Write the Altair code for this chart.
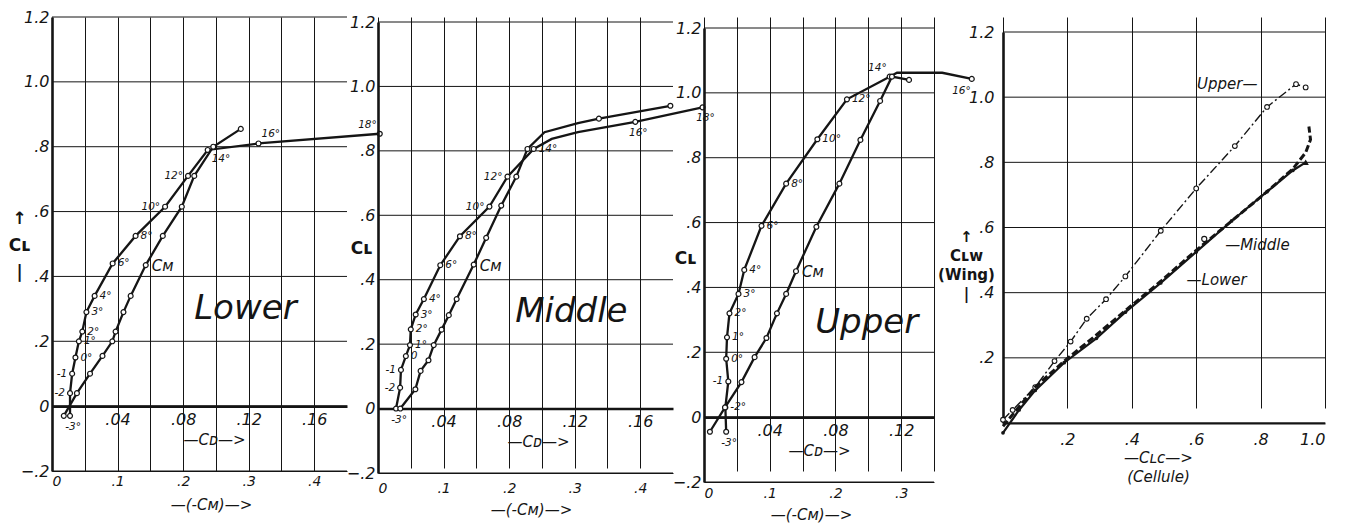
import altair as alt
import pandas as pd

FONT = "DejaVu Sans"
INK = "#151515"

# ---------------- Lower wing (CL vs CD, CL vs -CM) ----------------
LOW_CD_ANG = ["-3°", "-2", "-1", "0°", "1°", "2°", "3°", "4°", "6°", "8°", "10°", "12°", "14°", "16°", "18°"]
LOW_CD = [0.011, 0.011, 0.0123, 0.0143, 0.0164, 0.0185, 0.021, 0.026, 0.037, 0.051, 0.069, 0.083, 0.095, 0.126, 0.200]
LOW_CD_CL = [-0.03, 0.04, 0.10, 0.15, 0.20, 0.23, 0.29, 0.34, 0.44, 0.525, 0.615, 0.71, 0.79, 0.81, 0.84]
LOW_CM_ANG = ["-3°", "-2", "-1", "0°", "1°", "2°", "3°", "4°", "6°", "8°", "10°", "12°", "14°", "16°"]
LOW_CM = [0.018, 0.038, 0.058, 0.077, 0.092, 0.097, 0.109, 0.12, 0.143, 0.169, 0.198, 0.217, 0.246, 0.288]
LOW_CM_CL = [-0.03, 0.04, 0.10, 0.155, 0.20, 0.23, 0.29, 0.34, 0.435, 0.525, 0.615, 0.71, 0.80, 0.855]

# ---------------- Middle wing ----------------
MID_CD_ANG = ["-3°", "-2", "-1", "0", "1°", "2°", "3°", "4°", "6°", "8°", "10°", "12°", "14°", "", "", "16°", "18°"]
MID_CD = [0.011, 0.0135, 0.014, 0.017, 0.0195, 0.020, 0.023, 0.028, 0.038, 0.050, 0.068, 0.079, 0.095, 0.106, 0.122, 0.157, 0.198]
MID_CD_CL = [0.0, 0.065, 0.12, 0.163, 0.197, 0.246, 0.292, 0.34, 0.445, 0.535, 0.627, 0.72, 0.806, 0.837, 0.858, 0.89, 0.935]
MID_CM_ANG = ["-3°", "-2", "-1", "0", "1°", "2°", "3°", "4°", "6°", "8°", "10°", "12°", "14°", "", "", "16°", "18°"]
MID_CM = [0.034, 0.057, 0.065, 0.077, 0.085, 0.097, 0.108, 0.12, 0.146, 0.165, 0.188, 0.211, 0.228, 0.254, 0.305, 0.337, 0.446]
MID_CM_CL = [0.0, 0.06, 0.117, 0.15, 0.197, 0.245, 0.29, 0.34, 0.447, 0.53, 0.63, 0.72, 0.806, 0.858, 0.886, 0.90, 0.94]

# ---------------- Upper wing ----------------
UP_CD_ANG = ["-3°", "-2°", "-1", "0°", "1°", "2°", "3°", "4°", "6°", "8°", "10°", "12°", "14°", "", "", "16°"]
UP_CD = [0.0135, 0.013, 0.0148, 0.0135, 0.014, 0.0155, 0.021, 0.0245, 0.035, 0.050, 0.069, 0.087, 0.113, 0.1175, 0.145, 0.163]
UP_CD_CL = [-0.045, 0.03, 0.11, 0.18, 0.246, 0.32, 0.38, 0.454, 0.59, 0.72, 0.857, 0.98, 1.05, 1.062, 1.062, 1.043]
UP_CM_ANG = ["-3°", "-2°", "-1", "0°", "1°", "2°", "3°", "4°", "6°", "8°", "10°", "12°", "14°", "16°"]
UP_CM = [0.009, 0.032, 0.057, 0.077, 0.095, 0.111, 0.125, 0.14, 0.171, 0.206, 0.238, 0.268, 0.286, 0.312]
UP_CM_CL = [-0.045, 0.03, 0.108, 0.185, 0.244, 0.32, 0.38, 0.45, 0.587, 0.72, 0.855, 0.975, 1.05, 1.04]

# ---------------- Wing CL vs cellule CL ----------------
CEL_UP_X = [0.0, 0.03, 0.10, 0.16, 0.21, 0.26, 0.32, 0.38, 0.49, 0.60, 0.72, 0.82, 0.91, 0.94]
CEL_UP_Y = [0.01, 0.04, 0.11, 0.19, 0.25, 0.32, 0.38, 0.45, 0.59, 0.72, 0.85, 0.97, 1.04, 1.03]
CEL_MID_X = [0.0, 0.05, 0.10, 0.19, 0.29, 0.38, 0.49, 0.60, 0.71, 0.82, 0.90, 0.94, 0.955, 0.95]
CEL_MID_Y = [-0.01, 0.05, 0.11, 0.19, 0.27, 0.345, 0.435, 0.53, 0.62, 0.71, 0.78, 0.83, 0.87, 0.91]
CEL_MID_PT_X = [0.625]
CEL_MID_PT_Y = [0.565]
CEL_LOW_X = [0.0, 0.05, 0.10, 0.19, 0.29, 0.38, 0.49, 0.60, 0.71, 0.82, 0.90, 0.94]
CEL_LOW_Y = [-0.03, 0.04, 0.10, 0.185, 0.26, 0.34, 0.43, 0.525, 0.62, 0.71, 0.775, 0.80]

Y_VALUES = [-0.2, 0.0, 0.2, 0.4, 0.6, 0.8, 1.0, 1.2]
Y4_VALUES = [0.0, 0.2, 0.4, 0.6, 0.8, 1.0, 1.2]
LAB_Y = "datum.value == 0 ? '0' : replace(format(datum.value, '.1f'), '0.', '.')"
LAB_CD = "(datum.value > 0 && round(datum.value * 100) % 4 == 0) ? replace(format(datum.value, '.2f'), '0.', '.') : ''"
LAB_CM = ("round(datum.value * 100) % 10 == 0 ? (datum.value == 0 ? '0' : "
          "replace(format(datum.value, '.1f'), '0.', '.')) : ''")
LAB_P4 = "datum.value == 0 ? '' : replace(format(datum.value, '.1f'), '0.', '.')"

SIDE = {
    "r": dict(dx=5, dy=0, align="left"),
    "l": dict(dx=-5, dy=0, align="right"),
    "b": dict(dx=3, dy=11, align="center"),
    "bl": dict(dx=-1, dy=12, align="right"),
    "br": dict(dx=4, dy=9, align="left"),
    "ar": dict(dx=3, dy=-9, align="left"),
    "al": dict(dx=-3, dy=-9, align="right"),
}


def frame(ang, xs, ys):
    return pd.DataFrame({"ang": ang, "x": xs, "y": ys, "i": list(range(len(xs)))})


def grid_frame(levels, x_lo, x_hi):
    rows = []
    for k, v in enumerate(levels):
        rows.append({"g": k, "x": x_lo, "y": v})
        rows.append({"g": k, "x": x_hi, "y": v})
    return pd.DataFrame(rows)


def panel_cl(cd_df, cm_df, *, cd_max, w, h, top, sides, cm_at, name, name_x, name_y,
             ytitle, ytitle_x, ytitle_y, cd_title_x, cm_title_x, cm_lab_pad, cm_title_pad):
    n = int(round(cd_max / 0.02))
    cd_vals = [round(0.02 * k, 2) for k in range(n + 1)]
    cm_vals = [round(0.05 * k, 2) for k in range(n + 1)]
    cm_max = cd_max * 2.5

    yscale = alt.Scale(domain=[-0.2, 1.2], nice=False, zero=False, range=[top + h, top])
    yaxis = alt.Axis(values=Y_VALUES, labelExpr=LAB_Y, grid=False, domain=True, domainColor=INK,
                     domainWidth=2.6, ticks=False,
                     labelFontSize=16, labelPadding=3, labelFontStyle="italic", labelColor=INK,
                     title=ytitle, titleAngle=0, titleX=ytitle_x, titleY=ytitle_y,
                     titleAlign="center", titleBaseline="middle", titleFontSize=17,
                     titleFontWeight="bold", titleLineHeight=27, titleColor=INK)
    cdscale = alt.Scale(domain=[0, cd_max], nice=False, zero=False)
    cdaxis = alt.Axis(orient="bottom", offset=-(0.2 / 1.4) * h, values=cd_vals, labelExpr=LAB_CD,
                      grid=False, ticks=False, domain=True, domainColor=INK, domainWidth=2.6,
                      labelFontSize=16, labelPadding=5, labelFontStyle="italic", labelColor=INK,
                      title="—Cᴅ—>", titleX=cd_title_x, titleFontSize=15, titleFontWeight="normal",
                      titleFontStyle="italic", titlePadding=5, titleColor=INK)
    cmscale = alt.Scale(domain=[0, cm_max], nice=False, zero=False)
    cmaxis = alt.Axis(orient="bottom", values=cm_vals, labelExpr=LAB_CM, grid=True, gridColor=INK,
                      gridOpacity=1, gridWidth=1, ticks=False, domain=True, domainColor=INK,
                      domainWidth=1, labelFontSize=14, labelPadding=cm_lab_pad,
                      labelFontStyle="italic", labelColor=INK, title="—(-Cᴍ)—>",
                      titleX=cm_title_x, titleFontSize=15, titleFontWeight="normal",
                      titleFontStyle="italic", titlePadding=cm_title_pad, titleColor=INK)

    def Y():
        return alt.Y("y:Q", scale=yscale, axis=yaxis)

    def XD():
        return alt.X("x:Q", scale=cdscale, axis=cdaxis)

    def XM():
        return alt.X("x:Q", scale=cmscale, axis=cmaxis)

    hgrid = alt.Chart(grid_frame(Y_VALUES, 0, cd_max)).mark_line(color=INK, strokeWidth=1).encode(
        x=XD(), y=Y(), detail="g:N")
    line_cd = alt.Chart(cd_df).mark_line(color=INK, strokeWidth=2.3).encode(x=XD(), y=Y(), order="i:Q")
    mk_cd = cd_df[cd_df.ang != ""].copy()
    pts_cd = alt.Chart(mk_cd).mark_point(shape="circle", filled=True, fill="white", stroke=INK,
                                         strokeWidth=1.2, size=24, opacity=1).encode(x=XD(), y=Y())
    mk_cd["side"] = [sides.get(a, "r") for a in mk_cd.ang]
    labels = []
    for s, st in SIDE.items():
        sub = mk_cd[mk_cd.side == s]
        if len(sub):
            labels.append(alt.Chart(sub).mark_text(fontSize=10.5, fontStyle="italic", color=INK,
                                                   baseline="middle", font=FONT, **st)
                          .encode(x=XD(), y=Y(), text="ang:N"))
    name_df = pd.DataFrame({"x": [name_x], "y": [name_y], "t": [name]})
    name_layer = alt.Chart(name_df).mark_text(fontSize=34, fontStyle="italic", color=INK, font=FONT).encode(
        x=XD(), y=Y(), text="t:N")

    line_cm = alt.Chart(cm_df).mark_line(color=INK, strokeWidth=2.3).encode(x=XM(), y=Y(), order="i:Q")
    mk_cm = cm_df[cm_df.ang != ""]
    pts_cm = alt.Chart(mk_cm).mark_point(shape="circle", filled=True, fill="white", stroke=INK,
                                         strokeWidth=1.2, size=24, opacity=1).encode(x=XM(), y=Y())
    cm_lab_df = cm_df[cm_df.ang == cm_at].assign(t="Cᴍ")
    cm_lab = alt.Chart(cm_lab_df).mark_text(fontSize=15, fontStyle="italic", color=INK, align="left",
                                            dx=6, dy=1, font=FONT).encode(x=XM(), y=Y(), text="t:N")

    A = alt.layer(hgrid, line_cd, pts_cd, *labels, name_layer)
    B = alt.layer(line_cm, pts_cm, cm_lab)
    return alt.layer(A, B).resolve_scale(x="independent").properties(width=w, height=h + top)


def panel_cellule(w, h, top):
    xs = alt.Scale(domain=[0, 1.0], nice=False, zero=False)
    ys = alt.Scale(domain=[0, 1.2], nice=False, zero=False, range=[top + h, top])
    xa = alt.Axis(values=[0, 0.2, 0.4, 0.6, 0.8, 1.0], labelExpr=LAB_P4, grid=True, gridColor=INK,
                  gridOpacity=1, gridWidth=1, ticks=False, domain=True, domainColor=INK, domainWidth=2.2,
                  labelFontSize=16, labelPadding=8, labelFontStyle="italic", labelColor=INK,
                  title=["—Cʟᴄ—>", "(Cellule)"], titleFontSize=15, titleFontWeight="normal",
                  titleFontStyle="italic", titleLineHeight=19, titlePadding=3, titleX=155, titleColor=INK)
    ya = alt.Axis(values=Y4_VALUES, labelExpr=LAB_P4, grid=False, ticks=False, domain=True,
                  domainColor=INK, domainWidth=2.6,
                  labelFontSize=16, labelPadding=9, labelFontStyle="italic", labelColor=INK,
                  title=["↑", "Cʟᴡ", "(Wing)", "|"], titleAngle=0, titleX=-37, titleY=219,
                  titleAlign="center", titleBaseline="middle", titleFontSize=15,
                  titleFontWeight="bold", titleLineHeight=19, titleColor=INK)

    def X():
        return alt.X("x:Q", scale=xs, axis=xa)

    def Y():
        return alt.Y("y:Q", scale=ys, axis=ya)

    up = pd.DataFrame({"x": CEL_UP_X, "y": CEL_UP_Y, "i": list(range(len(CEL_UP_X)))})
    mid = pd.DataFrame({"x": CEL_MID_X, "y": CEL_MID_Y, "i": list(range(len(CEL_MID_X)))})
    midp = pd.DataFrame({"x": CEL_MID_PT_X, "y": CEL_MID_PT_Y})
    low = pd.DataFrame({"x": CEL_LOW_X, "y": CEL_LOW_Y, "i": list(range(len(CEL_LOW_X)))})

    hgrid = alt.Chart(grid_frame(Y4_VALUES, 0, 1.0)).mark_line(color=INK, strokeWidth=1).encode(
        x=X(), y=Y(), detail="g:N")
    l_up = alt.Chart(up).mark_line(color=INK, strokeWidth=1.4, strokeDash=[9, 3, 2, 3]).encode(
        x=X(), y=Y(), order="i:Q")
    p_up = alt.Chart(up).mark_point(shape="circle", filled=True, fill="white", stroke=INK,
                                    strokeWidth=1.1, size=22, opacity=1).encode(x=X(), y=Y())
    l_mid = alt.Chart(mid).mark_line(color=INK, strokeWidth=3, strokeDash=[7, 3]).encode(
        x=X(), y=Y(), order="i:Q")
    p_mid = alt.Chart(midp).mark_point(shape="circle", filled=True, fill="white", stroke=INK,
                                       strokeWidth=1.1, size=26, opacity=1).encode(x=X(), y=Y())
    l_low = alt.Chart(low).mark_line(color=INK, strokeWidth=2.2).encode(x=X(), y=Y(), order="i:Q")
    p_low = alt.Chart(low.iloc[:-1]).mark_point(shape="circle", filled=True, color=INK, size=14,
                                                opacity=1).encode(x=X(), y=Y())
    t_low = alt.Chart(low.iloc[-1:]).mark_point(shape="triangle-up", filled=True, color=INK, size=40,
                                                opacity=1).encode(x=X(), y=Y())
    txt = pd.DataFrame({"x": [0.79, 0.69, 0.57], "y": [1.04, 0.545, 0.44],
                        "t": ["Upper—", "—Middle", "—Lower"], "a": ["right", "left", "left"]})
    t_r = alt.Chart(txt[txt.a == "right"]).mark_text(fontSize=15, fontStyle="italic", color=INK,
                                                     align="right", font=FONT).encode(x=X(), y=Y(), text="t:N")
    t_l = alt.Chart(txt[txt.a == "left"]).mark_text(fontSize=15, fontStyle="italic", color=INK,
                                                    align="left", font=FONT).encode(x=X(), y=Y(), text="t:N")
    return alt.layer(hgrid, l_up, p_up, l_mid, p_mid, l_low, p_low, t_low, t_r, t_l).properties(
        width=w, height=h + top)


def spacer(w):
    return alt.Chart(pd.DataFrame({"v": [0]})).mark_point(opacity=0).encode(
        x=alt.X("v:Q", axis=None), y=alt.Y("v:Q", axis=None)).properties(width=w, height=1)


p1 = panel_cl(frame(LOW_CD_ANG, LOW_CD, LOW_CD_CL), frame(LOW_CM_ANG, LOW_CM, LOW_CM_CL),
              cd_max=0.18, w=295, h=454, top=0,
              sides={"-3°": "b", "-2": "l", "-1": "l", "10°": "l", "12°": "l", "14°": "br",
                     "16°": "ar", "18°": "al"},
              cm_at="6°", name="Lower", name_x=0.118, name_y=0.30,
              ytitle=["↑", "Cʟ", "|"], ytitle_x=-33, ytitle_y=201,
              cd_title_x=162, cm_title_x=159, cm_lab_pad=3, cm_title_pad=9)
p2 = panel_cl(frame(MID_CD_ANG, MID_CD, MID_CD_CL), frame(MID_CM_ANG, MID_CM, MID_CM_CL),
              cd_max=0.18, w=295, h=451, top=5,
              sides={"-3°": "b", "-2": "l", "-1": "l", "10°": "l", "12°": "l", "16°": "b", "18°": "b"},
              cm_at="6°", name="Middle", name_x=0.118, name_y=0.30,
              ytitle="Cʟ", ytitle_x=-17, ytitle_y=231,
              cd_title_x=160, cm_title_x=153, cm_lab_pad=8, cm_title_pad=7)
p3 = panel_cl(frame(UP_CD_ANG, UP_CD, UP_CD_CL), frame(UP_CM_ANG, UP_CM, UP_CM_CL),
              cd_max=0.14, w=230, h=454, top=11,
              sides={"-3°": "b", "-1": "l", "14°": "al", "16°": "bl"},
              cm_at="4°", name="Upper", name_x=0.099, name_y=0.29,
              ytitle="Cʟ", ytitle_x=-19, ytitle_y=241,
              cd_title_x=115, cm_title_x=107, cm_lab_pad=4, cm_title_pad=7)
p4 = panel_cellule(322, 391, 15)

row = alt.hconcat(p1, p2, p3, spacer(7), p4, spacing=31, bounds="flush")

chart = row.properties(
    padding={"left": 0, "top": 1, "right": 5, "bottom": 5},
    background="white",
).configure(font=FONT).configure_view(stroke=None).configure_axis(labelFont=FONT, titleFont=FONT)

chart.save("out.html", embed_options={"renderer": "svg", "actions": False})
